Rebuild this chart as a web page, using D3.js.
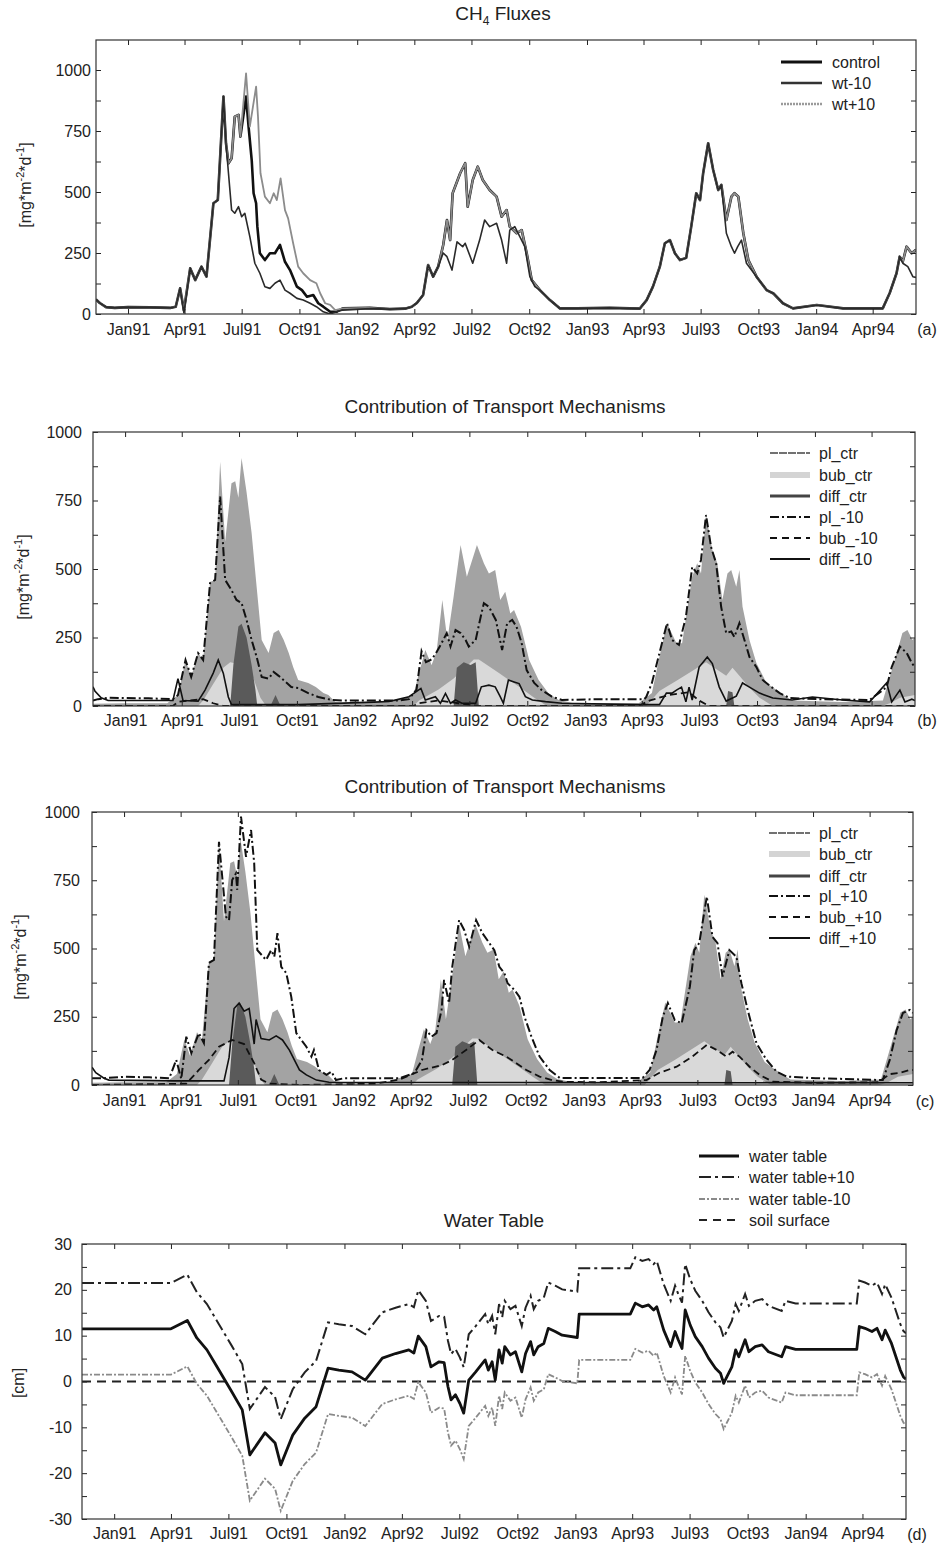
<!DOCTYPE html>
<html>
<head>
<meta charset="utf-8">
<script src="https://cdnjs.cloudflare.com/ajax/libs/d3/7.8.5/d3.min.js"></script>
<style>
  body { margin: 0; background: #fff; }
</style>
</head>
<body>
<div id="chart"></div>
<script>
// Time axis: day numbers counted from 1 Jan 1991
const dayRange = [-51, 1255];
const monthLabels = ["Jan91","Apr91","Jul91","Oct91","Jan92","Apr92","Jul92","Oct92","Jan93","Apr93","Jul93","Oct93","Jan94","Apr94"];
const fluxTicks = [0,125,250,375,500,625,750,875,1000];
const fluxTickLabels = [0,250,500,750,1000];
const wtTicks = [-30,-25,-20,-15,-10,-5,0,5,10,15,20,25,30];
const wtTickLabels = [-30,-20,-10,0,10,20,30];

// (a) CH4 fluxes [day, mg m-2 d-1]
const fluxControl = [[-51,60],[-45,45],[-35,28],[-21,25],[0,28],[35,27],[67,25],[76,30],[83,105],[89,15],[99,187],[107,139],[117,194],[125,153],[136,454],[143,467],[152,891],[156,700],[160,618],[165,638],[170,809],[176,816],[179,727],[188,891],[192,768],[197,631],[200,495],[204,454],[206,358],[210,249],[218,221],[226,249],[234,249],[242,283],[250,214],[258,180],[269,112],[277,98],[285,71],[295,78],[303,44],[311,30],[322,9],[332,9],[342,23],[385,25],[417,20],[441,22],[452,30],[460,45],[470,78],[478,201],[486,153],[494,194],[502,283],[508,385],[513,303],[517,495],[529,577],[537,618],[541,440],[549,549],[557,604],[565,549],[576,508],[587,481],[595,399],[603,426],[608,358],[619,331],[627,344],[635,249],[643,139],[656,98],[672,57],[688,23],[715,23],[767,25],[815,22],[826,57],[836,112],[847,194],[855,290],[863,303],[871,249],[879,221],[889,230],[897,358],[905,495],[911,467],[916,577],[924,700],[932,590],[940,508],[945,529],[953,385],[961,481],[966,495],[972,481],[980,331],[988,221],[1001,153],[1017,98],[1028,84],[1043,44],[1059,23],[1097,37],[1139,23],[1202,23],[1213,85],[1224,167],[1229,235],[1234,215],[1240,276],[1248,249],[1255,263]];
const fluxWtMinus10 = [[-51,60],[-45,45],[-35,28],[-21,25],[0,28],[35,27],[67,25],[76,30],[83,105],[89,5],[99,187],[107,139],[117,194],[125,153],[136,454],[143,467],[152,891],[156,700],[160,577],[165,426],[170,413],[176,440],[181,399],[186,413],[194,317],[202,208],[210,167],[218,112],[226,105],[234,126],[242,139],[250,98],[258,85],[269,64],[279,57],[290,44],[300,30],[311,9],[322,0],[332,9],[342,16],[385,22],[417,20],[441,22],[452,30],[460,45],[470,78],[478,201],[486,153],[494,194],[502,250],[508,235],[516,180],[524,296],[533,276],[537,290],[549,208],[560,303],[568,385],[576,358],[587,372],[595,303],[603,208],[608,344],[616,358],[624,317],[632,276],[640,153],[648,112],[656,98],[672,57],[688,23],[715,23],[767,25],[815,22],[826,57],[836,112],[847,194],[855,290],[863,303],[871,249],[879,221],[889,230],[897,358],[905,495],[911,467],[916,577],[924,700],[932,590],[940,508],[945,529],[953,331],[961,276],[966,249],[971,276],[977,303],[985,208],[1001,153],[1017,98],[1028,84],[1043,44],[1059,23],[1097,37],[1139,23],[1202,23],[1213,85],[1224,167],[1229,235],[1234,208],[1242,194],[1250,153],[1255,150]];
const fluxWtPlus10 = [[-51,60],[-45,45],[-35,28],[-21,25],[0,28],[35,27],[67,25],[76,30],[83,105],[89,15],[99,187],[107,139],[117,194],[125,153],[136,454],[143,467],[152,891],[156,700],[160,618],[165,638],[170,809],[176,816],[179,727],[188,986],[194,768],[204,932],[207,809],[211,577],[218,481],[226,454],[232,495],[237,467],[243,556],[250,426],[255,392],[263,290],[271,194],[279,167],[290,139],[300,126],[306,85],[314,44],[322,37],[330,16],[342,23],[385,25],[417,20],[441,22],[452,30],[460,45],[470,78],[478,201],[486,153],[494,194],[502,283],[508,385],[513,303],[517,495],[529,577],[537,618],[541,440],[549,549],[557,604],[565,549],[576,508],[587,481],[595,399],[603,426],[608,358],[619,331],[627,344],[635,249],[643,139],[656,98],[672,57],[688,23],[715,23],[767,25],[815,22],[826,57],[836,112],[847,194],[855,290],[863,303],[871,249],[879,221],[889,230],[897,358],[905,495],[911,467],[916,577],[924,700],[932,590],[940,508],[945,529],[953,385],[961,481],[966,495],[972,481],[980,331],[988,221],[1001,153],[1017,98],[1028,84],[1043,44],[1059,23],[1097,37],[1139,23],[1202,23],[1213,85],[1224,167],[1229,235],[1234,215],[1240,276],[1248,249],[1255,263]];

// (b),(c) control run transport pathways (shaded)
const plCtr = [[-51,8],[0,10],[67,10],[84,40],[96,168],[105,106],[116,193],[124,168],[135,453],[143,460],[151,891],[159,600],[169,813],[175,820],[180,760],[185,905],[193,780],[201,631],[209,434],[217,241],[228,193],[236,266],[244,277],[252,241],[260,193],[267,142],[275,95],[291,84],[303,69],[315,47],[323,40],[334,15],[347,10],[419,12],[458,40],[467,120],[477,204],[487,150],[495,200],[504,387],[512,241],[522,400],[533,588],[543,472],[559,588],[570,521],[578,484],[588,496],[596,387],[604,417],[612,338],[618,350],[629,289],[642,168],[657,95],[673,46],[689,22],[713,10],[816,10],[837,47],[849,180],[861,302],[876,229],[885,229],[901,472],[909,521],[915,484],[923,697],[933,569],[941,521],[949,387],[957,484],[963,496],[971,435],[976,496],[981,362],[992,241],[1003,157],[1019,84],[1035,58],[1051,33],[1060,20],[1139,15],[1204,20],[1215,106],[1226,193],[1235,266],[1243,277],[1251,241],[1255,250]];
const bubCtr = [[-51,0],[116,0],[124,20],[140,80],[156,140],[167,160],[188,150],[204,100],[215,30],[224,0],[458,0],[467,20],[498,60],[522,100],[554,170],[562,170],[594,120],[626,70],[650,30],[670,0],[828,0],[849,55],[876,92],[901,128],[923,160],[939,135],[955,110],[965,140],[976,110],[992,67],[1008,30],[1029,0],[1202,0],[1215,10],[1231,30],[1255,40]];
const diffCtr = [[-51,0],[167,0],[172,150],[180,290],[185,300],[193,250],[201,150],[207,60],[210,0],[231,0],[239,40],[247,0],[522,0],[527,140],[538,160],[549,150],[557,160],[562,0],[955,0],[958,55],[965,50],[968,0],[1255,0]];

// (b) water table -10 run
const plMinus10 = [[-51,20],[-43,25],[-27,30],[37,28],[76,25],[84,40],[96,168],[105,106],[116,193],[124,168],[135,449],[143,460],[151,764],[159,460],[169,423],[177,387],[185,376],[193,314],[201,241],[209,179],[217,106],[228,100],[236,124],[244,110],[255,88],[264,69],[275,66],[291,47],[307,33],[328,22],[347,20],[435,20],[451,25],[463,60],[471,200],[478,160],[487,170],[494,193],[503,230],[511,266],[517,217],[525,277],[533,266],[541,241],[546,217],[557,241],[565,326],[570,375],[578,362],[589,314],[599,204],[607,302],[615,314],[622,289],[630,230],[638,131],[650,84],[662,58],[678,34],[694,22],[753,25],[825,25],[828,33],[837,84],[849,193],[861,302],[869,241],[880,223],[891,325],[901,507],[909,484],[915,533],[923,697],[931,580],[939,521],[947,362],[955,266],[963,272],[968,252],[976,302],[984,241],[992,179],[1003,142],[1013,95],[1027,69],[1040,47],[1056,29],[1100,25],[1183,22],[1210,69],[1218,142],[1231,217],[1242,193],[1250,157],[1255,140]];
const bubMinus10 = [[-51,0],[76,0],[84,15],[100,20],[124,25],[140,10],[156,0],[458,0],[467,10],[498,20],[530,10],[562,0],[816,0],[833,20],[864,40],[896,50],[912,20],[928,0],[1255,0]];
const diffMinus10 = [[-51,70],[-48,55],[-38,30],[-27,20],[76,20],[84,100],[92,20],[116,18],[127,58],[140,120],[148,168],[156,120],[164,33],[169,5],[275,5],[419,16],[451,34],[470,64],[477,22],[493,34],[501,10],[509,46],[517,10],[525,22],[535,10],[557,10],[566,70],[578,76],[588,70],[596,34],[601,10],[609,95],[618,88],[626,82],[636,34],[647,22],[668,16],[694,10],[816,5],[849,5],[860,47],[869,47],[876,58],[884,69],[891,15],[896,69],[901,22],[912,142],[925,179],[933,155],[944,69],[955,18],[971,36],[981,84],[992,69],[1008,47],[1029,29],[1060,22],[1092,33],[1140,22],[1183,15],[1210,84],[1218,15],[1231,58],[1239,15],[1250,25],[1255,20]];

// (c) water table +10 run
const plPlus10 = [[-51,25],[-32,25],[0,30],[40,28],[72,25],[83,92],[91,22],[99,177],[107,117],[119,190],[127,154],[135,447],[143,458],[151,891],[162,617],[167,604],[172,751],[178,775],[180,715],[186,983],[194,836],[202,934],[207,813],[212,494],[226,458],[234,494],[239,470],[244,556],[250,433],[258,410],[266,323],[274,190],[282,165],[290,140],[298,104],[302,128],[310,55],[322,37],[330,49],[337,18],[350,25],[438,25],[462,44],[474,92],[481,201],[489,177],[497,190],[505,275],[509,385],[517,300],[522,432],[529,542],[533,604],[541,568],[549,507],[560,604],[570,556],[581,520],[589,494],[597,433],[605,410],[610,373],[621,348],[629,323],[637,250],[648,177],[661,104],[677,55],[693,26],[745,26],[825,26],[836,55],[847,128],[857,250],[865,300],[876,238],[887,226],[900,360],[907,494],[915,520],[927,690],[936,543],[944,520],[952,397],[963,494],[974,470],[982,373],[992,275],[1006,153],[1022,92],[1038,49],[1054,31],[1100,25],[1207,18],[1218,92],[1229,201],[1239,264],[1250,275],[1255,264]];
const bubPlus10 = [[-51,0],[99,5],[119,55],[135,92],[151,140],[172,165],[191,150],[207,80],[218,20],[231,5],[280,0],[400,5],[438,20],[474,55],[506,73],[522,92],[544,128],[565,165],[586,128],[608,104],[624,80],[640,55],[661,31],[681,18],[697,12],[750,10],[831,18],[851,44],[879,67],[904,104],[927,147],[943,128],[958,104],[968,122],[979,104],[995,67],[1011,37],[1032,12],[1100,8],[1200,10],[1218,40],[1234,44],[1250,55],[1255,55]];
const diffPlus10 = [[-51,65],[-45,45],[-32,25],[-24,18],[80,15],[159,15],[167,100],[175,280],[183,300],[191,270],[199,280],[204,200],[207,150],[210,240],[218,170],[231,165],[242,180],[252,165],[263,128],[279,55],[290,37],[306,18],[326,10],[1255,8]];

// (d) water table [cm]
const wtDays = [-51,90,116,131,147,166,185,203,215,239,255,264,283,302,320,339,356,377,398,425,446,467,475,482,494,502,515,523,529,534,541,548,554,562,573,588,593,599,604,610,615,619,628,636,646,652,660,665,672,681,688,699,710,734,737,818,826,837,847,855,860,871,882,889,894,900,905,913,921,932,942,953,961,966,971,979,985,990,1000,1006,1016,1027,1037,1058,1064,1080,1177,1181,1190,1201,1209,1217,1222,1232,1246,1251,1255];
const wtLevel = [11.5,11.5,13.3,9.5,6.9,2.5,-1.9,-6.2,-16,-11.2,-13.4,-18.2,-11.7,-8,-5.5,2.9,2.5,2.1,0.3,5.1,6.1,6.9,6.2,9.9,7.6,3.2,4.3,4.1,-1.1,-4.0,-2.9,-4.8,-6.9,0.3,2.1,4.7,2.5,4.3,0.3,6.9,4.0,7.6,5.8,6.5,2.1,6.1,8.7,5.8,7.6,8.3,11.6,10.9,10.1,9.6,14.7,14.7,17.1,16.3,16.7,15.6,16.3,11.2,7.6,10.9,9.1,7.2,15.6,12.3,9.8,7.6,5.1,2.9,1.8,-0.4,1.0,3.2,6.9,5.4,9.1,6.5,7.6,8.0,6.5,5.4,7.6,7.0,7.0,12,11.6,10.9,11.6,9.1,11.2,8.3,2.5,1.0,0.5];
const wtPlus10 = [21.5,21.5,23.3,19.5,16.9,12.5,8.1,3.8,-6,-1.2,-3.4,-8.2,-1.7,2,4.5,12.9,12.5,12.1,10.3,15.1,16.1,16.9,16.2,19.9,17.6,13.2,14.3,14.1,8.9,6.0,7.1,5.2,3.1,10.3,12.1,14.7,12.5,14.3,10.3,16.9,14.0,17.6,15.8,16.5,12.1,16.1,18.7,15.8,17.6,18.3,21.6,20.9,20.1,19.6,24.7,24.7,27.1,26.3,26.7,25.6,26.3,21.2,17.6,20.9,19.1,17.2,25.6,22.3,19.8,17.6,15.1,12.9,11.8,9.6,11.0,13.2,16.9,15.4,19.1,16.5,17.6,18.0,16.5,15.4,17.6,17.0,17.0,22,21.6,20.9,21.6,19.1,21.2,18.3,12.5,11.0,10.5];
const wtMinus10 = [1.5,1.5,3.3,-0.5,-3.1,-7.5,-11.9,-16.2,-26,-21.2,-23.4,-28.2,-21.7,-18,-15.5,-7.1,-7.5,-7.9,-9.7,-4.9,-3.9,-3.1,-3.8,-0.1,-2.4,-6.8,-5.7,-5.9,-11.1,-14.0,-12.9,-14.8,-16.9,-9.7,-7.9,-5.3,-7.5,-5.7,-9.7,-3.1,-6.0,-2.4,-4.2,-3.5,-7.9,-3.9,-1.3,-4.2,-2.4,-1.7,1.6,0.9,0.1,-0.4,4.7,4.7,7.1,6.3,6.7,5.6,6.3,1.2,-2.4,0.9,-0.9,-2.8,5.6,2.3,-0.2,-2.4,-4.9,-7.1,-8.2,-10.4,-9.0,-6.8,-3.1,-4.6,-0.9,-3.5,-2.4,-2.0,-3.5,-4.6,-2.4,-3.0,-3.0,2,1.6,0.9,1.6,-0.9,1.2,-1.7,-7.5,-9.0,-9.5];
const soilDays = [-51, 1255];
const soilLevel = [0, 0];

const FONT = '"Liberation Sans", Arial, Helvetica, sans-serif';
const W = 938, H = 1543;

const svg = d3.select("#chart")
    .append("svg")
    .attr("width", W)
    .attr("height", H)
    .style("font-family", FONT);

const dayZero = new Date(1991, 0, 1);
const dayDate = (d) => d3.timeDay.offset(dayZero, d);
const parseMonth = d3.timeParse("%b%y");
const monthDates = monthLabels.map(parseMonth);

// Create scales, clip path and plotting group for one panel
function makePanel(p) {
    const x = d3.scaleTime()
        .domain([dayDate(dayRange[0]), dayDate(dayRange[1])])
        .range([p.left, p.right]);
    const y = d3.scaleLinear().domain(p.yDomain).range([p.bottom, p.top]);
    const g = svg.append("g");
    const clipId = "clip-" + p.id;
    g.append("clipPath").attr("id", clipId)
        .append("rect")
        .attr("x", p.left).attr("y", p.top)
        .attr("width", p.right - p.left).attr("height", p.bottom - p.top);
    const plot = g.append("g").attr("clip-path", `url(#${clipId})`);
    const line = d3.line().x((d) => x(dayDate(d[0]))).y((d) => y(d[1]));
    const area = d3.area().x((d) => x(dayDate(d[0]))).y0(y(0)).y1((d) => y(d[1]));
    return { x, y, g, plot, line, area };
}

// Axes on all four sides with inward ticks, frame, titles
function finishPanel(P, p) {
    const { x, y, g } = P;
    const styleAxis = (s) => {
        s.select(".domain").remove();
        s.attr("font-family", FONT).attr("font-size", 16).attr("color", "#222");
    };
    g.append("g")
        .attr("transform", `translate(0,${p.bottom})`)
        .call(d3.axisBottom(x).tickValues(monthDates).tickFormat(d3.timeFormat("%b%y")).tickSize(-5).tickPadding(p.xPad))
        .call(styleAxis);
    g.append("g")
        .attr("transform", `translate(0,${p.top})`)
        .call(d3.axisTop(x).tickValues(monthDates).tickFormat("").tickSize(-5))
        .call(styleAxis);
    g.append("g")
        .attr("transform", `translate(${p.left},0)`)
        .call(d3.axisLeft(y).tickValues(p.yTicks).tickSize(-5).tickPadding(p.yPad)
            .tickFormat((v) => (p.yLabels.includes(v) ? v : "")))
        .call(styleAxis);
    g.append("g")
        .attr("transform", `translate(${p.right},0)`)
        .call(d3.axisRight(y).tickValues(p.yTicks).tickFormat("").tickSize(-5))
        .call(styleAxis);

    g.append("rect")
        .attr("x", p.left).attr("y", p.top)
        .attr("width", p.right - p.left).attr("height", p.bottom - p.top)
        .attr("fill", "none").attr("stroke", "#333").attr("stroke-width", 1.2);

    // Title
    const title = g.append("text")
        .attr("x", p.titleX).attr("y", p.titleY)
        .attr("text-anchor", "middle")
        .attr("font-size", 19).attr("fill", "#222");
    p.title.forEach((part) => {
        title.append("tspan")
            .attr("dy", part.dy || 0)
            .attr("font-size", part.size || null)
            .text(part.t);
    });

    // Y axis label
    const yl = g.append("text")
        .attr("transform", `translate(${p.ylX},${p.ylY}) rotate(-90)`)
        .attr("text-anchor", "middle")
        .attr("font-size", 16).attr("fill", "#222");
    p.ylabel.forEach((part) => {
        yl.append("tspan")
            .attr("dy", part.dy || 0)
            .attr("font-size", part.size || null)
            .text(part.t);
    });

    // Panel tag
    g.append("text")
        .attr("x", p.tagX).attr("y", p.tagY)
        .attr("text-anchor", "middle")
        .attr("font-size", 16).attr("fill", "#222")
        .text(p.tag);

    // Legend
    p.legend.forEach((it, i) => {
        const yy = p.legendY[i];
        g.append("line")
            .attr("x1", p.lx0).attr("x2", p.lx1).attr("y1", yy).attr("y2", yy)
            .attr("stroke", it.color).attr("stroke-width", it.width)
            .attr("stroke-dasharray", it.dash || null);
        g.append("text")
            .attr("x", p.lt).attr("y", yy).attr("dy", "0.35em")
            .attr("font-size", 16).attr("fill", "#222")
            .text(it.name);
    });
}

const mgLabel = [
    { t: "[mg*m" }, { t: "-2", dy: -7, size: 11 }, { t: "*d", dy: 7 },
    { t: "-1", dy: -7, size: 11 }, { t: "]", dy: 7 }
];

// ---------- (a) CH4 fluxes ----------
const pa = {
    id: "a", left: 96, right: 916, top: 40, bottom: 314, yDomain: [0, 1123],
    yTicks: fluxTicks, yLabels: fluxTickLabels, yPad: 5, xPad: 10,
    title: [{ t: "CH" }, { t: "4", dy: 5, size: 12 }, { t: " Fluxes", dy: -5 }],
    titleX: 503, titleY: 20,
    ylabel: mgLabel, ylX: 31, ylY: 185,
    tag: "(a)", tagX: 927, tagY: 335,
    lx0: 781, lx1: 822, lt: 832, legendY: [62, 83, 104],
    legend: [
        { name: "control", color: "#111", width: 3 },
        { name: "wt-10", color: "#333", width: 2.5 },
        { name: "wt+10", color: "#9a9a9a", width: 2.5, dash: "2,1" }
    ]
};
const A = makePanel(pa);
A.plot.append("path").datum(fluxControl).attr("d", A.line)
    .attr("fill", "none").attr("stroke", "#111").attr("stroke-width", 2.6).attr("stroke-linejoin", "round");
A.plot.append("path").datum(fluxWtPlus10).attr("d", A.line)
    .attr("fill", "none").attr("stroke", "#8c8c8c").attr("stroke-width", 1.8).attr("stroke-linejoin", "round");
A.plot.append("path").datum(fluxWtMinus10).attr("d", A.line)
    .attr("fill", "none").attr("stroke", "#2a2a2a").attr("stroke-width", 1.6).attr("stroke-linejoin", "round");
finishPanel(A, pa);

// ---------- (b) and (c) transport mechanisms ----------
function transportPanel(p, pl, bub, diff) {
    const P = makePanel(p);
    P.plot.append("path").datum(plCtr).attr("d", P.area).attr("fill", "#a3a3a3");
    P.plot.append("path").datum(bubCtr).attr("d", P.area).attr("fill", "#d9d9d9");
    P.plot.append("path").datum(diffCtr).attr("d", P.area).attr("fill", "#5a5a5a");
    P.plot.append("path").datum(diff).attr("d", P.line)
        .attr("fill", "none").attr("stroke", "#111").attr("stroke-width", 1.6);
    P.plot.append("path").datum(bub).attr("d", P.line)
        .attr("fill", "none").attr("stroke", "#111").attr("stroke-width", 1.8).attr("stroke-dasharray", "7,4");
    P.plot.append("path").datum(pl).attr("d", P.line)
        .attr("fill", "none").attr("stroke", "#111").attr("stroke-width", 2).attr("stroke-dasharray", "9,3,2,3");
    finishPanel(P, p);
}

const legendCtr = [
    { name: "pl_ctr", color: "#444", width: 1.5, dash: "8,1" },
    { name: "bub_ctr", color: "#d4d4d4", width: 6 },
    { name: "diff_ctr", color: "#444", width: 3 }
];

const pb = {
    id: "b", left: 93, right: 915, top: 432, bottom: 706, yDomain: [0, 1000],
    yTicks: fluxTicks, yLabels: fluxTickLabels, yPad: 11, xPad: 9,
    title: [{ t: "Contribution of Transport Mechanisms" }], titleX: 505, titleY: 413,
    ylabel: mgLabel, ylX: 29, ylY: 577,
    tag: "(b)", tagX: 927, tagY: 726,
    lx0: 770, lx1: 810, lt: 819, legendY: [453, 475, 496, 517, 538, 559],
    legend: legendCtr.concat([
        { name: "pl_-10", color: "#111", width: 2, dash: "9,3,2,3" },
        { name: "bub_-10", color: "#111", width: 2, dash: "7,5" },
        { name: "diff_-10", color: "#111", width: 2 }
    ])
};
transportPanel(pb, plMinus10, bubMinus10, diffMinus10);

const pc = {
    id: "c", left: 92, right: 913, top: 812, bottom: 1085, yDomain: [0, 1000],
    yTicks: fluxTicks, yLabels: fluxTickLabels, yPad: 12, xPad: 10,
    title: [{ t: "Contribution of Transport Mechanisms" }], titleX: 505, titleY: 793,
    ylabel: mgLabel, ylX: 26, ylY: 957,
    tag: "(c)", tagX: 925, tagY: 1107,
    lx0: 769, lx1: 810, lt: 819, legendY: [833, 854, 876, 896, 917, 938],
    legend: legendCtr.concat([
        { name: "pl_+10", color: "#111", width: 2, dash: "9,3,2,3" },
        { name: "bub_+10", color: "#111", width: 2, dash: "7,5" },
        { name: "diff_+10", color: "#111", width: 2 }
    ])
};
transportPanel(pc, plPlus10, bubPlus10, diffPlus10);

// ---------- (d) water table ----------
const pd = {
    id: "d", left: 82, right: 906, top: 1244, bottom: 1519, yDomain: [-30, 30],
    yTicks: wtTicks, yLabels: wtTickLabels, yPad: 10, xPad: 9,
    title: [{ t: "Water Table" }], titleX: 494, titleY: 1227,
    ylabel: [{ t: "[cm]" }], ylX: 24, ylY: 1383,
    tag: "(d)", tagX: 917, tagY: 1540,
    lx0: 699, lx1: 739, lt: 749, legendY: [1156, 1177, 1199, 1220],
    legend: [
        { name: "water table", color: "#111", width: 2.8 },
        { name: "water table+10", color: "#222", width: 2, dash: "12,4,3,4" },
        { name: "water table-10", color: "#8a8a8a", width: 1.8, dash: "6,2,2,2" },
        { name: "soil surface", color: "#222", width: 2, dash: "8,6" }
    ]
};
const D = makePanel(pd);
const zip = (days, vals) => days.map((d, i) => [d, vals[i]]);
D.plot.append("path").datum(zip(soilDays, soilLevel)).attr("d", D.line)
    .attr("fill", "none").attr("stroke", "#222").attr("stroke-width", 2).attr("stroke-dasharray", "9,6");
D.plot.append("path").datum(zip(wtDays, wtMinus10)).attr("d", D.line)
    .attr("fill", "none").attr("stroke", "#8a8a8a").attr("stroke-width", 1.8).attr("stroke-dasharray", "6,2,2,2");
D.plot.append("path").datum(zip(wtDays, wtPlus10)).attr("d", D.line)
    .attr("fill", "none").attr("stroke", "#222").attr("stroke-width", 2).attr("stroke-dasharray", "12,4,3,4");
D.plot.append("path").datum(zip(wtDays, wtLevel)).attr("d", D.line)
    .attr("fill", "none").attr("stroke", "#111").attr("stroke-width", 2.8).attr("stroke-linejoin", "round");
finishPanel(D, pd);
</script>
</body>
</html>
